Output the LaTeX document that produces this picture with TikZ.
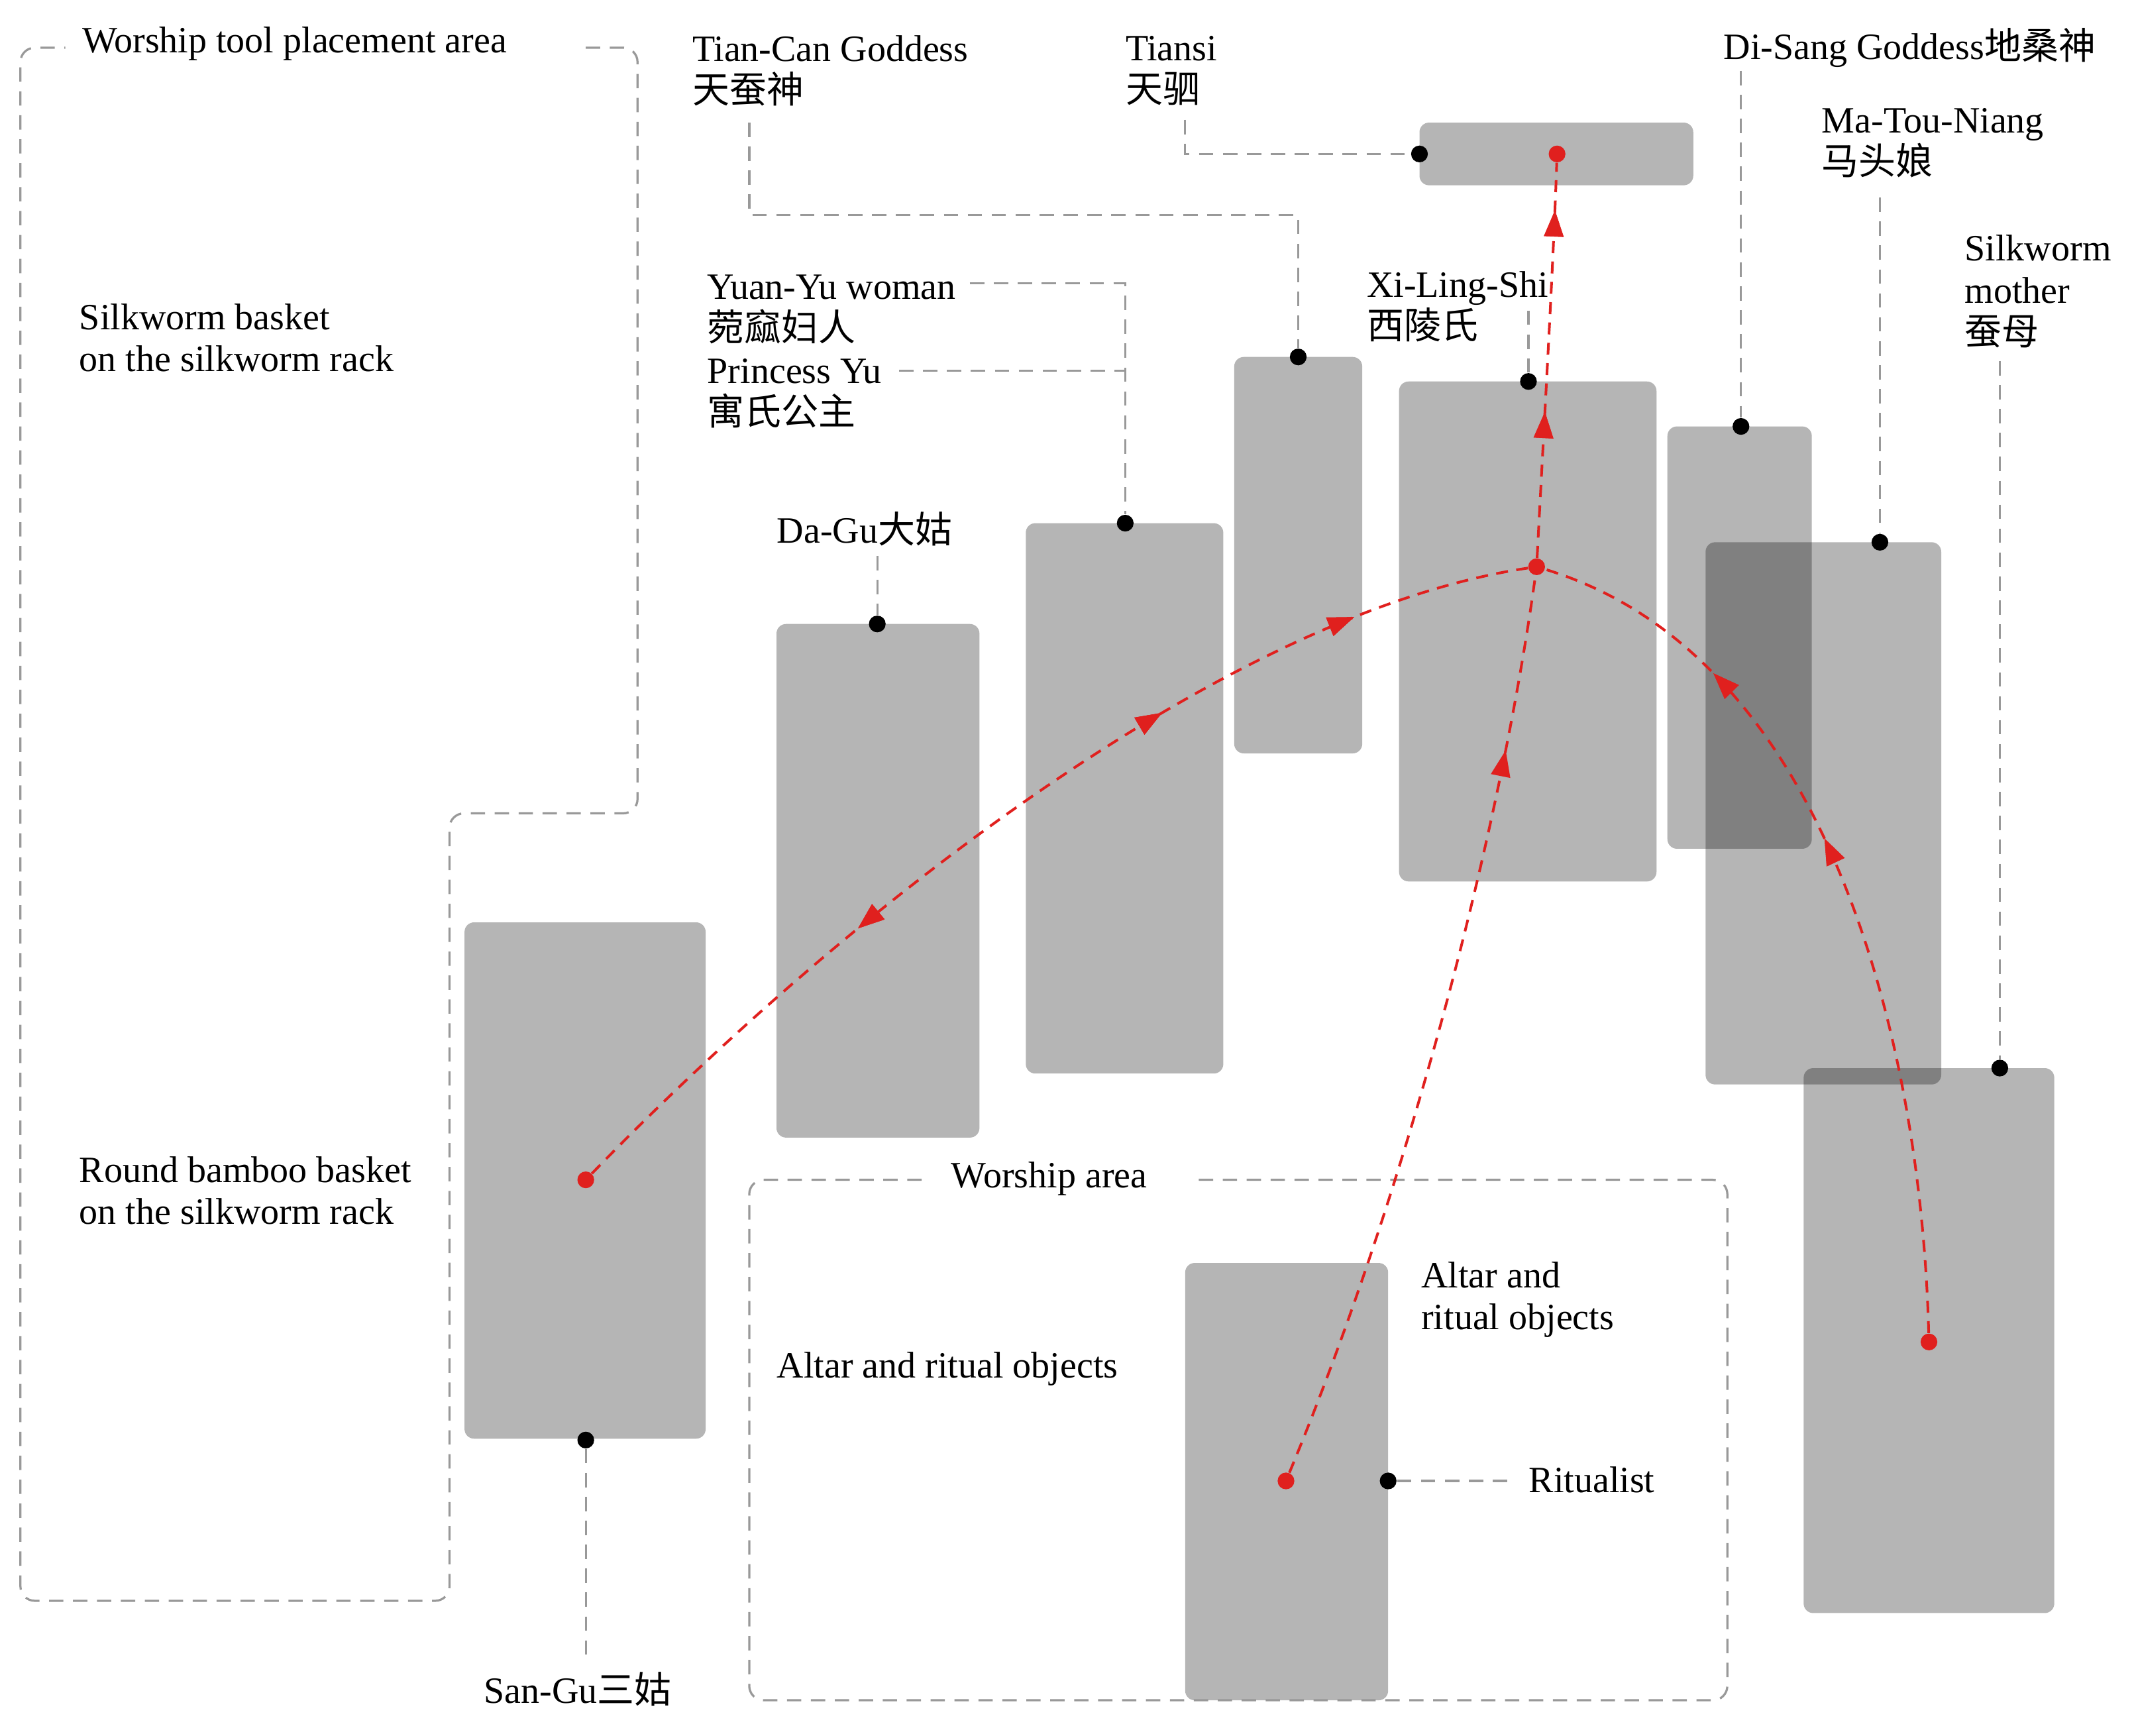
\documentclass[tikz,border=0pt]{standalone}
\usepackage{fontspec}
\setmainfont{Liberation Serif}
\newfontfamily\cjk{Noto Sans CJK SC}
\usetikzlibrary{decorations.markings,arrows.meta}
\definecolor{redp}{HTML}{E0201E}
\tikzset{
 rack/.style={fill=black,fill opacity=0.29,draw=none,rounded corners=4pt},
 dsh/.style={draw=gray!80,dashed,dash pattern=on 6pt off 4pt,line width=0.9pt},
 dot/.style={circle,fill=black,inner sep=0pt,minimum size=7pt},
 rdot/.style={circle,fill=redp,inner sep=0pt,minimum size=7pt},
 lbl/.style={anchor=west,inner sep=0pt,font=\fontsize{15.5}{17.5}\selectfont,align=left},
 rp/.style={draw=redp,line width=1.1pt,dash pattern=on 5pt off 3.5pt},
 fw/.style={postaction={decorate},decoration={markings,mark=at position #1 with {\arrow[redp,solid]{Triangle[length=11pt,width=8pt]}}}},
 bw/.style={postaction={decorate},decoration={markings,mark=at position #1 with {\arrowreversed[redp,solid]{Triangle[length=11pt,width=8pt]}}}},
}
\begin{document}
\begin{tikzpicture}[x=0.02cm,y=-0.02cm]
\useasboundingbox (0,0) rectangle (1568,1274);
% racks
\path[rack] (341,677) rectangle (518,1056);
\path[rack] (570,458) rectangle (719,835);
\path[rack] (753,384) rectangle (898,788);
\path[rack] (906,262) rectangle (1000,553);
\path[rack] (1027,280) rectangle (1216,647);
\path[rack] (1042,90) rectangle (1243,136);
\path[rack] (1224,313) rectangle (1330,623);
\path[rack] (1252,398) rectangle (1425,796);
\path[rack] (1324,784) rectangle (1508,1184);
\path[rack] (870,927) rectangle (1019,1248);
% areas
\node[lbl] (wt) at (60,32) {Worship tool placement area};
\draw[dsh,rounded corners=6pt] (430,35) -- (468,35) -- (468,597) -- (330,597) -- (330,1175) -- (15,1175) -- (15,35) -- (48,35);
\node[lbl] (wa) at (698,865) {Worship area};
\draw[dsh,rounded corners=6pt] (880,866) -- (1268,866) -- (1268,1248) -- (550,1248) -- (550,866) -- (680,866);
% texts
\node[lbl] at (58,248) {Silkworm basket\\on the silkworm rack};
\node[lbl] at (58,874) {Round bamboo basket\\on the silkworm rack};
\node[lbl] at (570,1005) {Altar and ritual objects};
\node[lbl] at (1043,954) {Altar and\\ritual objects};
% dots
\node[dot] (dTs) at (1042,113) {};
\node[dot] (dTc) at (953,262) {};
\node[dot] (dYy) at (826,384) {};
\node[dot] (dDg) at (644,458) {};
\node[dot] (dXl) at (1122,280) {};
\node[dot] (dDs) at (1278,313) {};
\node[dot] (dMt) at (1380,398) {};
\node[dot] (dSm) at (1468,784) {};
\node[dot] (dSg) at (430,1057) {};
\node[dot] (dRi) at (1019,1087) {};
% labels
\node[lbl] (tTs) at (826,52) {Tiansi\\{\cjk 天驷}};
\draw[dsh] (870,88) -- (870,113) -- (dTs);
\node[lbl] (tTc) at (508,52) {Tian-Can Goddess\\{\cjk 天蚕神}};
\draw[dsh] (550,90) -- (550,158) -- (953,158) -- (dTc);
\node[lbl] (tYy) at (519,258) {Yuan-Yu woman\\{\cjk 菀窳妇人}\\Princess Yu\\{\cjk 寓氏公主}};
\draw[dsh] (712,208) -- (826,208) -- (dYy);
\draw[dsh] (660,272) -- (826,272);
\node[lbl] (tDg) at (570,388) {Da-Gu{\cjk 大姑}};
\draw[dsh] (644,408) -- (dDg);
\node[lbl] (tXl) at (1003,225) {Xi-Ling-Shi\\{\cjk 西陵氏}};
\draw[dsh] (1122,228) -- (dXl);
\node[lbl] (tDs) at (1265,35) {Di-Sang Goddess{\cjk 地桑神}};
\draw[dsh] (1278,52) -- (dDs);
\node[lbl] (tMt) at (1337,105) {Ma-Tou-Niang\\{\cjk 马头娘}};
\draw[dsh] (1380,145) -- (dMt);
\node[lbl] (tSm) at (1442,214) {Silkworm\\mother\\{\cjk 蚕母}};
\draw[dsh] (1468,265) -- (dSm);
\node[lbl] (tSg) at (355,1240) {San-Gu{\cjk 三姑}};
\draw[dsh] (dSg) -- (430,1220);
\node[lbl] (tRi) at (1122,1086) {Ritualist};
\draw[dsh] (dRi) -- (1112,1087);
% red
\node[rdot] (r1) at (430,866) {};
\node[rdot] (r2) at (944,1087) {};
\node[rdot] (r3) at (1416,985) {};
\node[rdot] (rc) at (1128,416) {};
\node[rdot] (rt) at (1143,113) {};
\draw[rp,bw=0.32,fw=0.65,fw=0.84] (r1) .. controls (620,670) and (900,450) .. (rc);
\draw[rp,fw=0.81] (r2) .. controls (1030,880) and (1100,620) .. (rc);
\draw[rp,fw=0.37,fw=0.88] (rc) .. controls (1133,320) and (1140,200) .. (rt);
\draw[rp,fw=0.56,fw=0.78] (r3) .. controls (1410,760) and (1340,480) .. (rc);
\end{tikzpicture}
\end{document}
